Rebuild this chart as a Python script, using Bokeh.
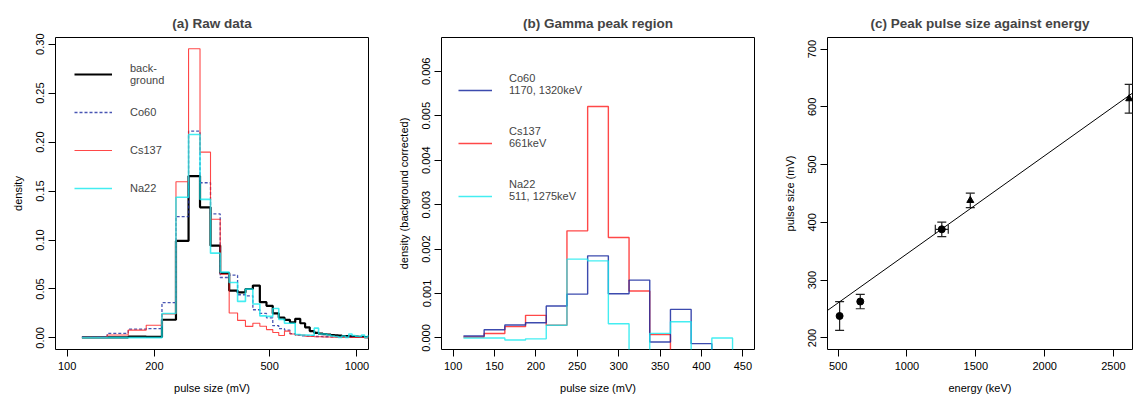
import math
from bokeh.plotting import figure
from bokeh.models import (Range1d, FixedTicker, PrintfTickFormatter, Legend, LegendItem,
                          Whisker, ColumnDataSource, TeeHead, Slope)
from bokeh.layouts import row
from bokeh.embed import file_html
from bokeh.resources import INLINE

# ---------------- data ----------------
bin_width = 25.0
bin_start = 112.5

# (a) raw densities (fraction per 25 mV bin), bins 112.5, 137.5, ... 1087.5
raw_background = [0.0006, 0.0006, 0.0013, 0.0010, 0.0186, 0.0991, 0.1653, 0.1334, 0.0943, 0.0662,
                  0.0484, 0.0465, 0.0500, 0.0535, 0.0365, 0.0328, 0.0250, 0.0208, 0.0185, 0.0160,
                  0.0195, 0.0150, 0.0108, 0.0070, 0.0052, 0.0045, 0.0040, 0.0035, 0.0030, 0.0026,
                  0.0024, 0.0020, 0.0019, 0.0016, 0.0015, 0.0013, 0.0011, 0.0010, 0.0009, 0.0008]
raw_co60 = [0.0010, 0.0047, 0.0090, 0.0096, 0.0360, 0.1238, 0.2111, 0.1585, 0.1266, 0.0617,
            0.0641, 0.0441, 0.0430, 0.0288, 0.0250, 0.0205, 0.0125, 0.0095, 0.0080, 0.0045,
            0.0030, 0.0022, 0.0018, 0.0020, 0.0015, 0.0015, 0.0012, 0.0012, 0.0010, 0.0010,
            0.0008, 0.0008, 0.0007, 0.0007, 0.0006, 0.0006, 0.0005, 0.0005, 0.0005, 0.0004]
raw_cs137 = [0.0006, 0.0030, 0.0080, 0.0130, 0.0245, 0.1595, 0.2953, 0.1897, 0.1212, 0.0650,
             0.0255, 0.0179, 0.0118, 0.0150, 0.0120, 0.0085, 0.0055, 0.0025, 0.0070, 0.0040,
             0.0030, 0.0030, 0.0018, 0.0015, 0.0012, 0.0012, 0.0010, 0.0010, 0.0008, 0.0008,
             0.0007, 0.0006, 0.0006, 0.0005, 0.0005, 0.0004, 0.0004, 0.0004, 0.0003, 0.0003]
raw_na22 = [0.0003, 0.0003, 0.0003, 0.0003, 0.0250, 0.1436, 0.2077, 0.1415, 0.0866, 0.0672,
            0.0566, 0.0373, 0.0499, 0.0346, 0.0225, 0.0220, 0.0300, 0.0190, 0.0150, 0.0150,
            0.0035, 0.0030, 0.0030, 0.0028, 0.0100, 0.0040, 0.0040, 0.0030, 0.0020, 0.0015,
            0.0006, 0.0020, 0.0006, 0.0040, 0.0025, 0.0018, 0.0015, 0.0030, 0.0006, 0.0020]

# (b) background-corrected densities, bins 112.5 ... 437.5
corr_co60 = [0.000045, 0.000186, 0.000290, 0.000343, 0.000718, 0.000987, 0.001847,
             0.000994, 0.001301, -0.000090, 0.000642, -0.000128, -0.000400, -0.000400]
corr_cs137 = [0.000020, 0.000100, 0.000254, 0.000508, 0.000284, 0.002410, 0.005207,
              0.002259, 0.001055, 0.000074, -0.000500, -0.000500, -0.000500, -0.000500]
corr_na22 = [0.000000, 0.000000, -0.000045, -0.000020, 0.000284, 0.001773, 0.001735,
             0.000321, -0.000400, 0.000103, 0.000366, -0.000400, 0.000000, -0.000400]

# (c) peak pulse size against energy
peak_energy = [511, 661, 1253, 1460, 2614]
peak_energy_err = [0, 0, 47, 0, 0]
peak_pulse = [238, 263, 388, 438, 614]
peak_pulse_err = [25, 12.5, 12.5, 12.5, 25]
peak_marker = ["circle", "circle", "circle", "triangle", "triangle"]
fit_intercept = 175.8
fit_slope = 0.1698

# tick labels
ticks_a_x = [100, 200, 500, 1000]
ticks_a_y = [0.00, 0.05, 0.10, 0.15, 0.20, 0.25, 0.30]
ticks_b_x = [100, 150, 200, 250, 300, 350, 400, 450]
ticks_b_y = [0.000, 0.001, 0.002, 0.003, 0.004, 0.005, 0.006]
ticks_c_x = [500, 1000, 1500, 2000, 2500]
ticks_c_y = [200, 300, 400, 500, 600, 700]

FONT = "Liberation Sans"
COL_BG = "black"
COL_CO = "#1a2aa0"
COL_CS = "#ff1a1a"
COL_NA = "#14e8ee"


def r_range(lo, hi, log=False):
    if log:
        a, b = math.log10(lo), math.log10(hi)
        d = 0.04 * (b - a)
        return Range1d(10 ** (a - d), 10 ** (b + d))
    d = 0.04 * (hi - lo)
    return Range1d(lo - d, hi + d)


def step_xy(values):
    xs = [bin_start + i * bin_width for i in range(len(values) + 1)]
    ys = list(values) + [values[-1]]
    return xs, ys


def make_fig(title, x_range, y_range, frame_w, left, right, x_axis_type="linear"):
    p = figure(title=title, x_range=x_range, y_range=y_range, x_axis_type=x_axis_type,
               frame_width=frame_w, frame_height=312,
               min_border_left=left, min_border_right=right,
               min_border_top=37, min_border_bottom=51,
               output_backend="svg", toolbar_location=None)
    p.title.text_font = FONT
    p.title.text_font_size = "13.5px"
    p.title.text_font_style = "bold"
    p.title.align = "center"
    p.title.standoff = 13
    p.xgrid.visible = False
    p.ygrid.visible = False
    p.outline_line_color = "black"
    p.outline_line_width = 1
    p.outline_line_alpha = 1
    p.background_fill_color = "white"
    p.border_fill_color = "white"
    for ax in p.axis:
        ax.axis_line_color = None
        ax.major_tick_out = 7
        ax.major_tick_in = 0
        ax.minor_tick_out = 0
        ax.minor_tick_in = 0
        ax.major_tick_line_color = "black"
        ax.major_label_text_font = FONT
        ax.major_label_text_font_size = "11px"
        ax.major_label_text_color = "black"
        ax.axis_label_text_font = FONT
        ax.axis_label_text_font_size = "11px"
        ax.axis_label_text_font_style = "normal"
        ax.axis_label_text_color = "black"
    p.xaxis.major_label_standoff = 5
    p.xaxis.axis_label_standoff = 9
    p.yaxis.major_label_standoff = 4
    p.yaxis.axis_label_standoff = 10
    p.yaxis.major_label_orientation = "vertical"
    return p


# ---------------- (a) raw data ----------------
p1 = make_fig("(a) Raw data", r_range(100, 1000, log=True), r_range(0, 0.295),
              313, 55, 26, x_axis_type="log")
p1.xaxis.ticker = FixedTicker(ticks=ticks_a_x)
p1.xaxis.formatter = PrintfTickFormatter(format="%d")
p1.yaxis.ticker = FixedTicker(ticks=ticks_a_y)
p1.yaxis.formatter = PrintfTickFormatter(format="%.2f")
p1.xaxis.axis_label = "pulse size (mV)"
p1.yaxis.axis_label = "density"

x, y = step_xy(raw_background)
r_bg = p1.step(x, y, mode="after", line_color=COL_BG, line_width=2.2)
x, y = step_xy(raw_co60)
r_co = p1.step(x, y, mode="after", line_color=COL_CO, line_width=1.3, line_dash="3 2", line_alpha=0.8)
x, y = step_xy(raw_cs137)
r_cs = p1.step(x, y, mode="after", line_color=COL_CS, line_width=1.1, line_alpha=0.8)
x, y = step_xy(raw_na22)
r_na = p1.step(x, y, mode="after", line_color=COL_NA, line_width=1.6, line_alpha=0.8)

leg1 = Legend(items=[LegendItem(label="back-\nground", renderers=[r_bg]),
                     LegendItem(label="Co60", renderers=[r_co]),
                     LegendItem(label="Cs137", renderers=[r_cs]),
                     LegendItem(label="Na22", renderers=[r_na])],
              location=(19, 143), glyph_width=38, glyph_height=36, label_height=36,
              spacing=2, padding=0, margin=0, label_standoff=18,
              border_line_color=None, background_fill_alpha=0,
              label_text_font=FONT, label_text_font_size="11px")
p1.add_layout(leg1)

# ---------------- (b) gamma peak region ----------------
p2 = make_fig("(b) Gamma peak region", r_range(100, 450), r_range(0, 0.0065), 313, 47, 26)
p2.xaxis.ticker = FixedTicker(ticks=ticks_b_x)
p2.yaxis.ticker = FixedTicker(ticks=ticks_b_y)
p2.yaxis.formatter = PrintfTickFormatter(format="%.3f")
p2.xaxis.axis_label = "pulse size (mV)"
p2.yaxis.axis_label = "density (background corrected)"

x, y = step_xy(corr_cs137)
s_cs = p2.step(x, y, mode="after", line_color=COL_CS, line_width=1.4, line_alpha=0.8)
x, y = step_xy(corr_co60)
s_co = p2.step(x, y, mode="after", line_color=COL_CO, line_width=1.4, line_alpha=0.85)
x, y = step_xy(corr_na22)
s_na = p2.step(x, y, mode="after", line_color=COL_NA, line_width=1.4, line_alpha=0.8)

leg2 = Legend(items=[LegendItem(label="Co60\n1170, 1320keV\n ", renderers=[s_co]),
                     LegendItem(label="Cs137\n661keV\n ", renderers=[s_cs]),
                     LegendItem(label="Na22\n511, 1275keV\n ", renderers=[s_na])],
              location=(17, 132), glyph_width=34, glyph_height=42, label_height=42,
              spacing=11, padding=0, margin=0, label_standoff=17,
              border_line_color=None, background_fill_alpha=0,
              label_text_font=FONT, label_text_font_size="11px")
p2.add_layout(leg2)

# ---------------- (c) peak pulse size against energy ----------------
p3 = make_fig("(c) Peak pulse size against energy", Range1d(423, 2638), r_range(200, 700),
              305, 47, 1)
p3.xaxis.ticker = FixedTicker(ticks=ticks_c_x)
p3.yaxis.ticker = FixedTicker(ticks=ticks_c_y)
p3.xaxis.axis_label = "energy (keV)"
p3.yaxis.axis_label = "pulse size (mV)"

p3.add_layout(Slope(gradient=fit_slope, y_intercept=fit_intercept,
                    line_color="black", line_width=1))

src = ColumnDataSource(dict(
    energy=peak_energy, pulse=peak_pulse, marker=peak_marker,
    upper=[v + e for v, e in zip(peak_pulse, peak_pulse_err)],
    lower=[v - e for v, e in zip(peak_pulse, peak_pulse_err)],
))
p3.add_layout(Whisker(source=src, base="energy", upper="upper", lower="lower",
                      dimension="height", line_color="#222222", line_width=1.2,
                      upper_head=TeeHead(size=9, line_color="#222222", line_width=1.2),
                      lower_head=TeeHead(size=9, line_color="#222222", line_width=1.2)))
xerr_src = ColumnDataSource(dict(
    pulse=[v for v, e in zip(peak_pulse, peak_energy_err) if e > 0],
    right=[v + e for v, e in zip(peak_energy, peak_energy_err) if e > 0],
    left=[v - e for v, e in zip(peak_energy, peak_energy_err) if e > 0],
))
p3.add_layout(Whisker(source=xerr_src, base="pulse", upper="right", lower="left",
                      dimension="width", line_color="#222222", line_width=1.2,
                      upper_head=TeeHead(size=9, line_color="#222222", line_width=1.2),
                      lower_head=TeeHead(size=9, line_color="#222222", line_width=1.2)))
p3.scatter("energy", "pulse", marker="marker", source=src, size=7,
           fill_color="black", line_color="black")

layout = row(p1, p2, p3)
open("out.html", "w").write(file_html(layout, INLINE))
